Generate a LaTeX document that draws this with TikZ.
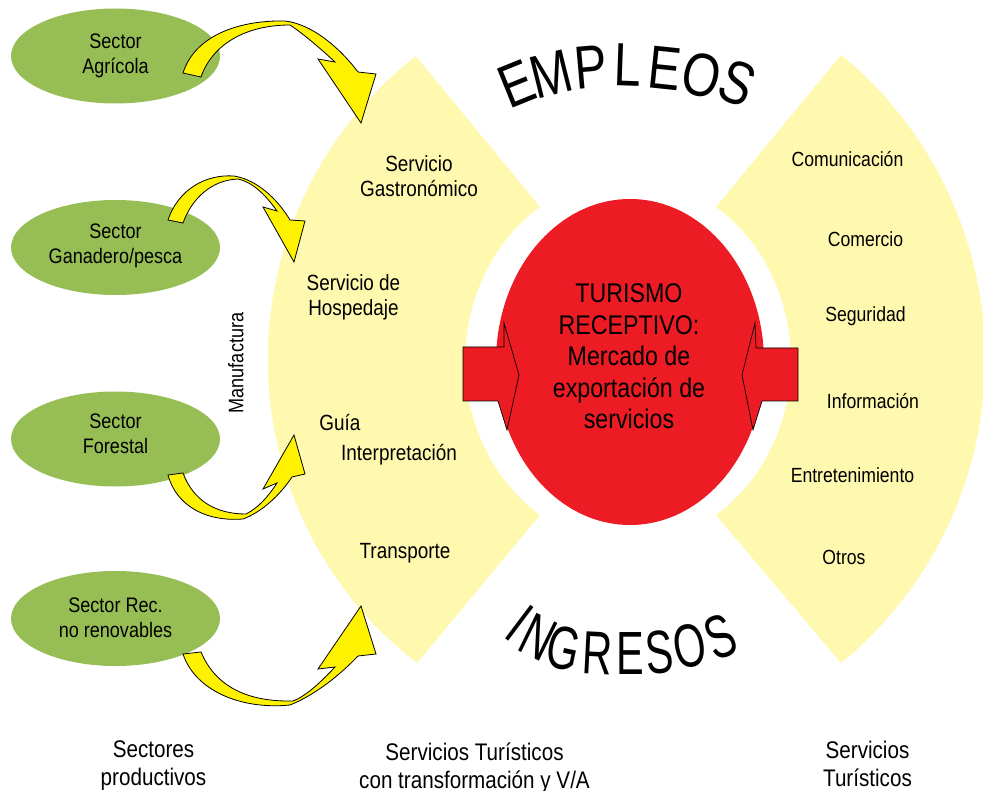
\documentclass[tikz,border=0pt]{standalone}
\usepackage{fontspec}
\setmainfont{Liberation Sans}[FakeStretch=0.86]
\newfontfamily\empfont{Liberation Sans}[FakeStretch=0.8]
\newfontfamily\ingfont{Liberation Sans}[FakeStretch=0.68]
\usetikzlibrary{shapes.geometric}
\definecolor{bgyellow}{RGB}{255,248,175}
\definecolor{cred}{RGB}{237,28,36}
\definecolor{sgreen}{RGB}{151,190,85}
\definecolor{ayellow}{RGB}{255,242,0}
\begin{document}
\begin{tikzpicture}[x=1pt,y=-1pt,
  every node/.style={inner sep=0pt,outer sep=0pt},
  fan/.style={fill=bgyellow},
  sectorell/.style={ellipse,fill=sgreen,minimum width=209pt,minimum height=95pt},
  curvarrow/.style={fill=ayellow,draw=black,line width=0.8pt,line join=miter},
  blockarrow/.style={fill=cred,draw=black,line width=0.7pt,line join=miter},
  etxt/.style={align=center,font=\fontsize{21}{25}\selectfont},
  ltxt/.style={align=center,font=\fontsize{22}{25}\selectfont},
  rtxt/.style={font=\fontsize{20.5}{24}\selectfont},
  ctxt/.style={align=center,font=\fontsize{27}{31.5}\selectfont},
  btxt/.style={align=center,font=\fontsize{24}{28}\selectfont},
  emp/.style={font=\empfont\fontsize{61}{61}\selectfont},
  ing/.style={font=\ingfont\fontsize{61}{61}\selectfont}]

\fill[white] (0,0) rectangle (983,791);
\useasboundingbox (0,0) rectangle (983,791);

% fans
\fill[fan] (415,55) -- (540,207)
  arc[start angle=237.3,end angle=122.7,x radius=163,y radius=183]
  -- (417,663) arc[start angle=127.7,end angle=232.3,radius=384] -- cycle;
\fill[fan] (841,55) -- (716,207)
  arc[start angle=-57.3,end angle=57.3,x radius=163,y radius=183]
  -- (841,663) arc[start angle=50.7,end angle=-50.7,radius=393] -- cycle;

% red core
\node[ellipse,fill=cred,minimum width=268pt,minimum height=326pt] (core) at (630,362) {};

% red block arrows
\filldraw[blockarrow] (463,347) -- (504,347) -- (504,323) -- (519,375) -- (507,430) -- (498,401) -- (463,401) -- cycle;
\filldraw[blockarrow] (798,348) -- (756,348) -- (755,323) -- (742,375) -- (753,430) -- (762,401) -- (798,401) -- cycle;

% sector ellipses
\node[sectorell] (agr) at (115.5,56) {};
\node[sectorell] (gan) at (115.5,247.5) {};
\node[sectorell] (for) at (115.5,439) {};
\node[sectorell] (rec) at (115.5,618.5) {};

% curved yellow arrows
\filldraw[curvarrow] (183,73) .. controls (195,35) and (240,20) .. (285,21)
  .. controls (312,24) and (340,48) .. (358,72) -- (376,74) -- (361,123) -- (318,59) -- (335,62)
  .. controls (322,50) and (305,35) .. (290,25)
  .. controls (245,25) and (212,45) .. (201,77) -- cycle;
\filldraw[curvarrow] (168,220) .. controls (178,190) and (205,174) .. (234,176)
  .. controls (258,180) and (278,200) .. (290,220) -- (305,221) -- (294,262) -- (263,207) -- (277,211)
  .. controls (265,194) and (252,182) .. (238,179)
  .. controls (212,180) and (192,198) .. (183,223) -- cycle;
\filldraw[curvarrow] (168,475) .. controls (176,505) and (205,522) .. (243,519)
  .. controls (262,512) and (280,495) .. (292,477) -- (305,474) -- (294,435) -- (263,489) -- (277,483)
  .. controls (268,497) and (258,508) .. (246,514)
  .. controls (215,514) and (193,500) .. (183,473) -- cycle;
\filldraw[curvarrow] (183,654) .. controls (195,690) and (240,710) .. (290,705)
  .. controls (315,695) and (340,675) .. (358,656) -- (376,654) -- (361,606) -- (318,669) -- (335,667)
  .. controls (320,683) and (306,696) .. (293,701)
  .. controls (245,702) and (215,685) .. (201,652) -- cycle;

% sector texts
\node[etxt] (agrt) at (115.5,56) {Sector\\Agrícola};
\node[etxt] (gant) at (115.5,245.5) {Sector\\Ganadero/pesca};
\node[etxt] (fort) at (115.5,433.5) {Sector\\Forestal};
\node[etxt] (rect) at (115.5,617.5) {Sector Rec.\\no renovables};
\node[rotate=90,font=\fontsize{21}{21}\selectfont] (manu) at (236,363) {Manufactura};

% left fan texts
\node[ltxt] (gas) at (419,176.6) {Servicio\\Gastronómico};
\node[ltxt] (hos) at (353.5,297) {Servicio de\\Hospedaje};
\node[ltxt] (gui) at (340,422.5) {Guía};
\node[ltxt] (int) at (399,454.8) {Interpretación};
\node[ltxt] (tra) at (405,553.3) {Transporte};

% right fan texts
\node[rtxt] (com) at (847.5,159.5) {Comunicación};
\node[rtxt] (cmr) at (865.5,239.5) {Comercio};
\node[rtxt] (seg) at (865.5,316.5) {Seguridad};
\node[rtxt] (inf) at (873,401) {Información};
\node[rtxt] (ent) at (852.5,475.5) {Entretenimiento};
\node[rtxt] (otr) at (844,557) {Otros};

% core text
\node[ctxt] (coret) at (629,356.4) {TURISMO\\RECEPTIVO:\\Mercado de\\exportación de\\servicios};

% EMPLEOS
\node[emp,rotate=22] (e1) at (517,84) {E};
\node[emp,rotate=14] (e2) at (551,74) {M};
\node[emp,rotate=5] (e3) at (591,67) {P};
\node[emp,rotate=-2] (e4) at (628,65) {L};
\node[emp,rotate=-6] (e5) at (665,68) {E};
\node[emp,rotate=-13] (e6) at (702,75) {O};
\node[emp,rotate=-22] (e7) at (737,83) {S};

% INGRESOS
\node[ing,rotate=-37] (i1) at (520,623) {I};
\node[ing,rotate=-26] (i2) at (538,637) {N};
\node[ing,rotate=-12] (i3) at (564,648) {G};
\node[ing,rotate=-3] (i4) at (598,653) {R};
\node[ing,rotate=0] (i5) at (630,654) {E};
\node[ing,rotate=5] (i6) at (659,652) {S};
\node[ing,rotate=10] (i7) at (690,646) {O};
\node[ing,rotate=22] (i8) at (720,637) {S};

% bottom labels
\node[btxt] (bl) at (153.5,766) {Sectores\\productivos};
\node[btxt] (bm) at (474.5,768.5) {Servicios Turísticos\\con transformación y V/A};
\node[btxt] (br) at (867.5,763.5) {Servicios\\Turísticos};
\end{tikzpicture}
\end{document}
